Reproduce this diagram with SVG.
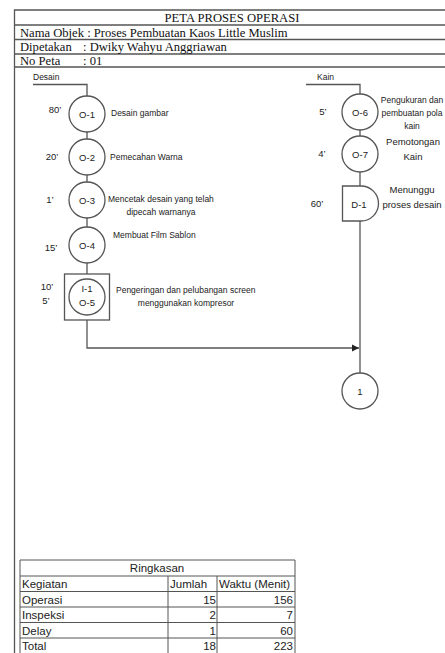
<svg xmlns="http://www.w3.org/2000/svg" width="445" height="653" viewBox="0 0 445 653">
<defs>
<style>
.ln{stroke:#555;stroke-width:1.3;fill:none}
.nd{stroke:#555;stroke-width:1.3;fill:#fff}
.hd{font-family:"Liberation Serif",serif;font-size:12.6px;fill:#111}
.sm{font-family:"Liberation Sans",Arial,sans-serif;font-size:8.5px;fill:#222}
.id{font-family:"Liberation Sans",Arial,sans-serif;font-size:9.5px;fill:#222;text-anchor:middle}
.tm{font-family:"Liberation Sans",Arial,sans-serif;font-size:9.5px;fill:#222;text-anchor:middle}
.lb{font-family:"Liberation Sans",Arial,sans-serif;font-size:9.5px;fill:#222;text-anchor:middle}
.tb{font-family:"Liberation Sans",Arial,sans-serif;font-size:11.5px;fill:#222}
.tl{stroke:#555;stroke-width:1;fill:none}
</style>
<marker id="arr" markerWidth="8" markerHeight="8" refX="7" refY="4" orient="auto" markerUnits="userSpaceOnUse">
<path d="M0,0.5 L7,4 L0,7.5 Z" fill="#222"/>
</marker>
</defs>
<rect width="445" height="653" fill="#fff"/>

<g id="header">
<path class="ln" d="M14.5,653 V10 H445 M14.5,25 H445 M14.5,39.5 H445 M14.5,54 H445 M14.5,67 H445"/>
<text class="hd" x="232" y="22" text-anchor="middle">PETA PROSES OPERASI</text>
<text class="hd" x="20" y="36.5">Nama Objek : Proses Pembuatan Kaos Little Muslim</text>
<text class="hd" x="20" y="51">Dipetakan</text>
<text class="hd" x="83" y="51">: Dwiky Wahyu Anggriawan</text>
<text class="hd" x="20" y="64.5">No Peta</text>
<text class="hd" x="83" y="64.5">: 01</text>
</g>

<g id="connectors">
<path class="ln" d="M33,84.5 H87 V96"/>
<path class="ln" d="M87,132 V139"/>
<path class="ln" d="M87,175 V182"/>
<path class="ln" d="M87,218 V227"/>
<path class="ln" d="M87,263 V274"/>
<path class="ln" d="M87,320 V348 H359" marker-end="url(#arr)"/>
<path class="ln" d="M306,84.5 H360 V94"/>
<path class="ln" d="M360,130 V136"/>
<path class="ln" d="M360,172 V186"/>
<path class="ln" d="M360,221 V373"/>
</g>

<g id="lbl-desain"><text class="sm" x="33" y="80" font-size="8">Desain</text></g>
<g id="lbl-kain"><text class="sm" x="317" y="80" font-size="8">Kain</text></g>

<g id="O-1">
<circle class="nd" cx="87" cy="114" r="18"/>
<text class="id" x="87" y="117.5">O-1</text>
<text class="tm" x="55" y="113">80’</text>
<text class="sm" x="111" y="116">Desain gambar</text>
</g>
<g id="O-2">
<circle class="nd" cx="87" cy="157" r="18"/>
<text class="id" x="87" y="160.5">O-2</text>
<text class="tm" x="52" y="160">20’</text>
<text class="sm" x="110" y="160">Pemecahan Warna</text>
</g>
<g id="O-3">
<circle class="nd" cx="87" cy="200" r="18"/>
<text class="id" x="87" y="203.5">O-3</text>
<text class="tm" x="50" y="203">1’</text>
<text class="sm" x="108" y="202">Mencetak desain yang telah</text>
<text class="sm" x="161" y="215" text-anchor="middle">dipecah warnanya</text>
</g>
<g id="O-4">
<circle class="nd" cx="87" cy="245" r="18"/>
<text class="id" x="87" y="248.5">O-4</text>
<text class="tm" x="51" y="251">15’</text>
<text class="sm" x="113" y="238">Membuat Film Sablon</text>
</g>
<g id="I-1-O-5">
<rect class="nd" x="64.5" y="274" width="45" height="46"/>
<circle class="nd" cx="87" cy="297" r="18"/>
<text class="id" x="87" y="292">I-1</text>
<text class="id" x="87" y="306">O-5</text>
<text class="tm" x="47" y="290">10’</text>
<text class="tm" x="46" y="304">5’</text>
<text class="sm" x="116" y="293">Pengeringan dan pelubangan screen</text>
<text class="sm" x="186" y="306" text-anchor="middle">menggunakan kompresor</text>
</g>

<g id="O-6">
<circle class="nd" cx="360" cy="112" r="18"/>
<text class="id" x="360" y="115.5">O-6</text>
<text class="tm" x="323" y="115">5’</text>
<text class="sm" x="412" y="103" text-anchor="middle">Pengukuran dan</text>
<text class="sm" x="412" y="116" text-anchor="middle">pembuatan pola</text>
<text class="sm" x="412" y="129" text-anchor="middle">kain</text>
</g>
<g id="O-7">
<circle class="nd" cx="360" cy="154" r="18"/>
<text class="id" x="360" y="157.5">O-7</text>
<text class="tm" x="322" y="157">4’</text>
<text class="lb" x="413" y="145">Pemotongan</text>
<text class="lb" x="413" y="160">Kain</text>
</g>
<g id="D-1">
<path class="nd" d="M342.5,186 H361 A17.5 17.5 0 0 1 361,221 H342.5 Z"/>
<text class="id" x="359" y="207.5">D-1</text>
<text class="tm" x="317" y="207">60’</text>
<text class="lb" x="412" y="193">Menunggu</text>
<text class="lb" x="412" y="208">proses desain</text>
</g>
<g id="conn-1">
<circle class="nd" cx="360" cy="391" r="18"/>
<text class="id" x="360" y="394.5" font-size="9">1</text>
</g>

<g id="summary">
<path class="tl" d="M20,560 H295 V653 M20,560 V653 M20,576 H295 M20,591.5 H295 M20,607 H295 M20,622.5 H295 M20,638 H295 M168,576 V653 M217,576 V653"/>
<text class="tb" x="157" y="572" text-anchor="middle">Ringkasan</text>
<text class="tb" x="22" y="588">Kegiatan</text>
<text class="tb" x="170" y="588">Jumlah</text>
<text class="tb" x="219" y="588">Waktu (Menit)</text>
<text class="tb" x="22" y="603.5">Operasi</text>
<text class="tb" x="22" y="619">Inspeksi</text>
<text class="tb" x="22" y="634.5">Delay</text>
<text class="tb" x="22" y="650">Total</text>
<g text-anchor="end">
<text class="tb" x="216" y="603.5">15</text>
<text class="tb" x="216" y="619">2</text>
<text class="tb" x="216" y="634.5">1</text>
<text class="tb" x="216" y="650">18</text>
<text class="tb" x="293" y="603.5">156</text>
<text class="tb" x="293" y="619">7</text>
<text class="tb" x="293" y="634.5">60</text>
<text class="tb" x="293" y="650">223</text>
</g>
</g>
</svg>
